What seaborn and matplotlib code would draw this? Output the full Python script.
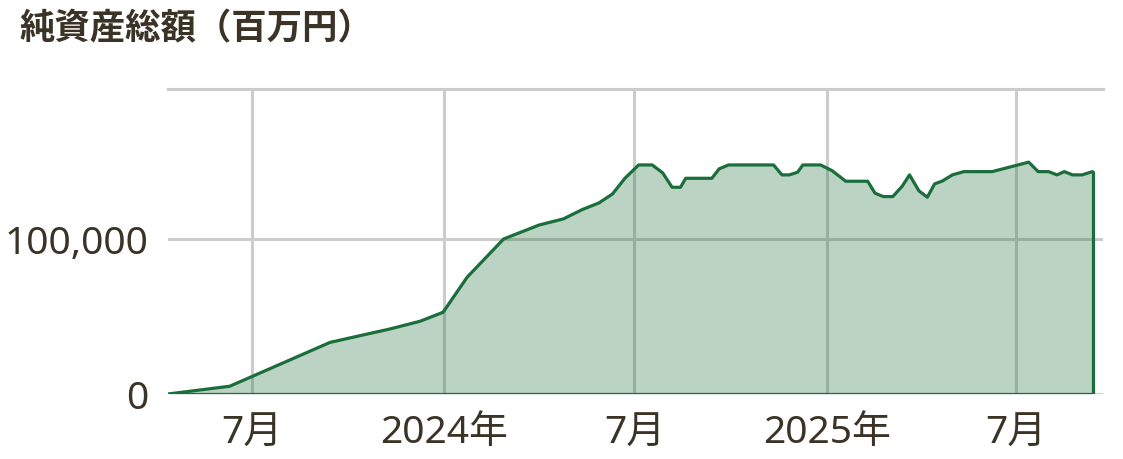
import matplotlib
matplotlib.use("Agg")
import matplotlib.pyplot as plt
import seaborn as sns
import pandas as pd

dates = [
    "2023-04-12", "2023-06-10", "2023-09-14", "2023-11-10", "2023-12-09",
    "2023-12-31", "2024-01-23", "2024-02-27", "2024-04-01", "2024-04-24",
    "2024-05-12", "2024-05-28", "2024-06-10", "2024-06-22", "2024-07-05",
    "2024-07-18", "2024-07-28", "2024-08-06", "2024-08-14", "2024-08-19",
    "2024-09-13", "2024-09-20", "2024-09-29", "2024-11-11", "2024-11-19",
    "2024-11-26", "2024-12-04", "2024-12-09", "2024-12-26", "2025-01-06",
    "2025-01-19", "2025-02-09", "2025-02-16", "2025-02-24", "2025-03-05",
    "2025-03-14", "2025-03-21", "2025-03-30", "2025-04-07", "2025-04-14",
    "2025-04-21", "2025-05-01", "2025-05-12", "2025-06-08", "2025-07-13",
    "2025-07-22", "2025-08-01", "2025-08-09", "2025-08-16", "2025-08-24",
    "2025-09-02", "2025-09-12",
]
net_assets = [
    0, 5000, 33300, 41900, 46900,
    52700, 75300, 100000, 109000, 112900,
    118900, 123200, 129000, 139200, 147700,
    147700, 142600, 133300, 133300, 139100,
    139100, 145200, 147700, 147700, 141300,
    141300, 143000, 147700, 147700, 144000,
    137200, 137200, 129500, 127300, 127300,
    134000, 141300, 131000, 126900, 135500,
    137200, 141300, 143400, 143400, 149500,
    143400, 143400, 141300, 143400, 141300,
    141300, 143400,
]
tick_dates = ["2023-07-01", "2024-01-01", "2024-07-01", "2025-01-01", "2025-07-01"]
tick_labels = ["7月", "2024年", "7月", "2025年", "7月"]
y_ticks = [0, 100000]
y_tick_labels = ["0", "100,000"]
title = "純資産総額（百万円）"

df = pd.DataFrame({"date": pd.to_datetime(dates), "value": net_assets})

sns.set_theme(style="white")
plt.rcParams["font.family"] = ["Noto Sans", "Noto Sans CJK JP", "DejaVu Sans"]

LINE = "#1b6e3b"
TEXT = "#3b3326"
GRID = "#cccccc"

fig = plt.figure(figsize=(11.23, 4.6), dpi=100)
ax = fig.add_axes([168 / 1123, 65 / 460, (1103 - 168) / 1123, (395 - 89.5) / 460])

ax.fill_between(df["date"], df["value"], 0, color=LINE, alpha=0.3, linewidth=0, zorder=2)
sns.lineplot(data=df, x="date", y="value", ax=ax, color=LINE, linewidth=2.3, zorder=3)
# close the area outline (right edge and baseline)
ax.plot([df["date"].iloc[-1], df["date"].iloc[-1], df["date"].iloc[0]],
        [df["value"].iloc[-1], 0, 0], color=LINE, linewidth=2.3, zorder=3,
        solid_joinstyle="miter")

ax.set_xlim(pd.Timestamp("2023-04-12"), pd.Timestamp("2025-09-22"))
ax.set_ylim(0, 197000)

ax.set_xticks(pd.to_datetime(tick_dates))
ax.set_xticklabels(tick_labels)
ax.set_yticks(y_ticks)
ax.set_yticklabels(y_tick_labels)

ax.grid(True, color=GRID, linewidth=2.2, zorder=1)
ax.set_axisbelow(True)
for s in ["left", "right", "bottom"]:
    ax.spines[s].set_visible(False)
ax.spines["top"].set_color(GRID)
ax.spines["top"].set_linewidth(2.2)

ax.tick_params(axis="both", length=0, labelsize=28, labelcolor=TEXT)
ax.tick_params(axis="y", pad=14)
ax.tick_params(axis="x", pad=14)
ax.set_xlabel("")
ax.set_ylabel("")

fig.text(19 / 1123, 1 - 29 / 460, title, fontsize=25.5, fontweight="bold",
         family=["Noto Sans CJK JP", "DejaVu Sans"],
         color=TEXT, va="center", ha="left")

fig.savefig("out.png", dpi=100)
